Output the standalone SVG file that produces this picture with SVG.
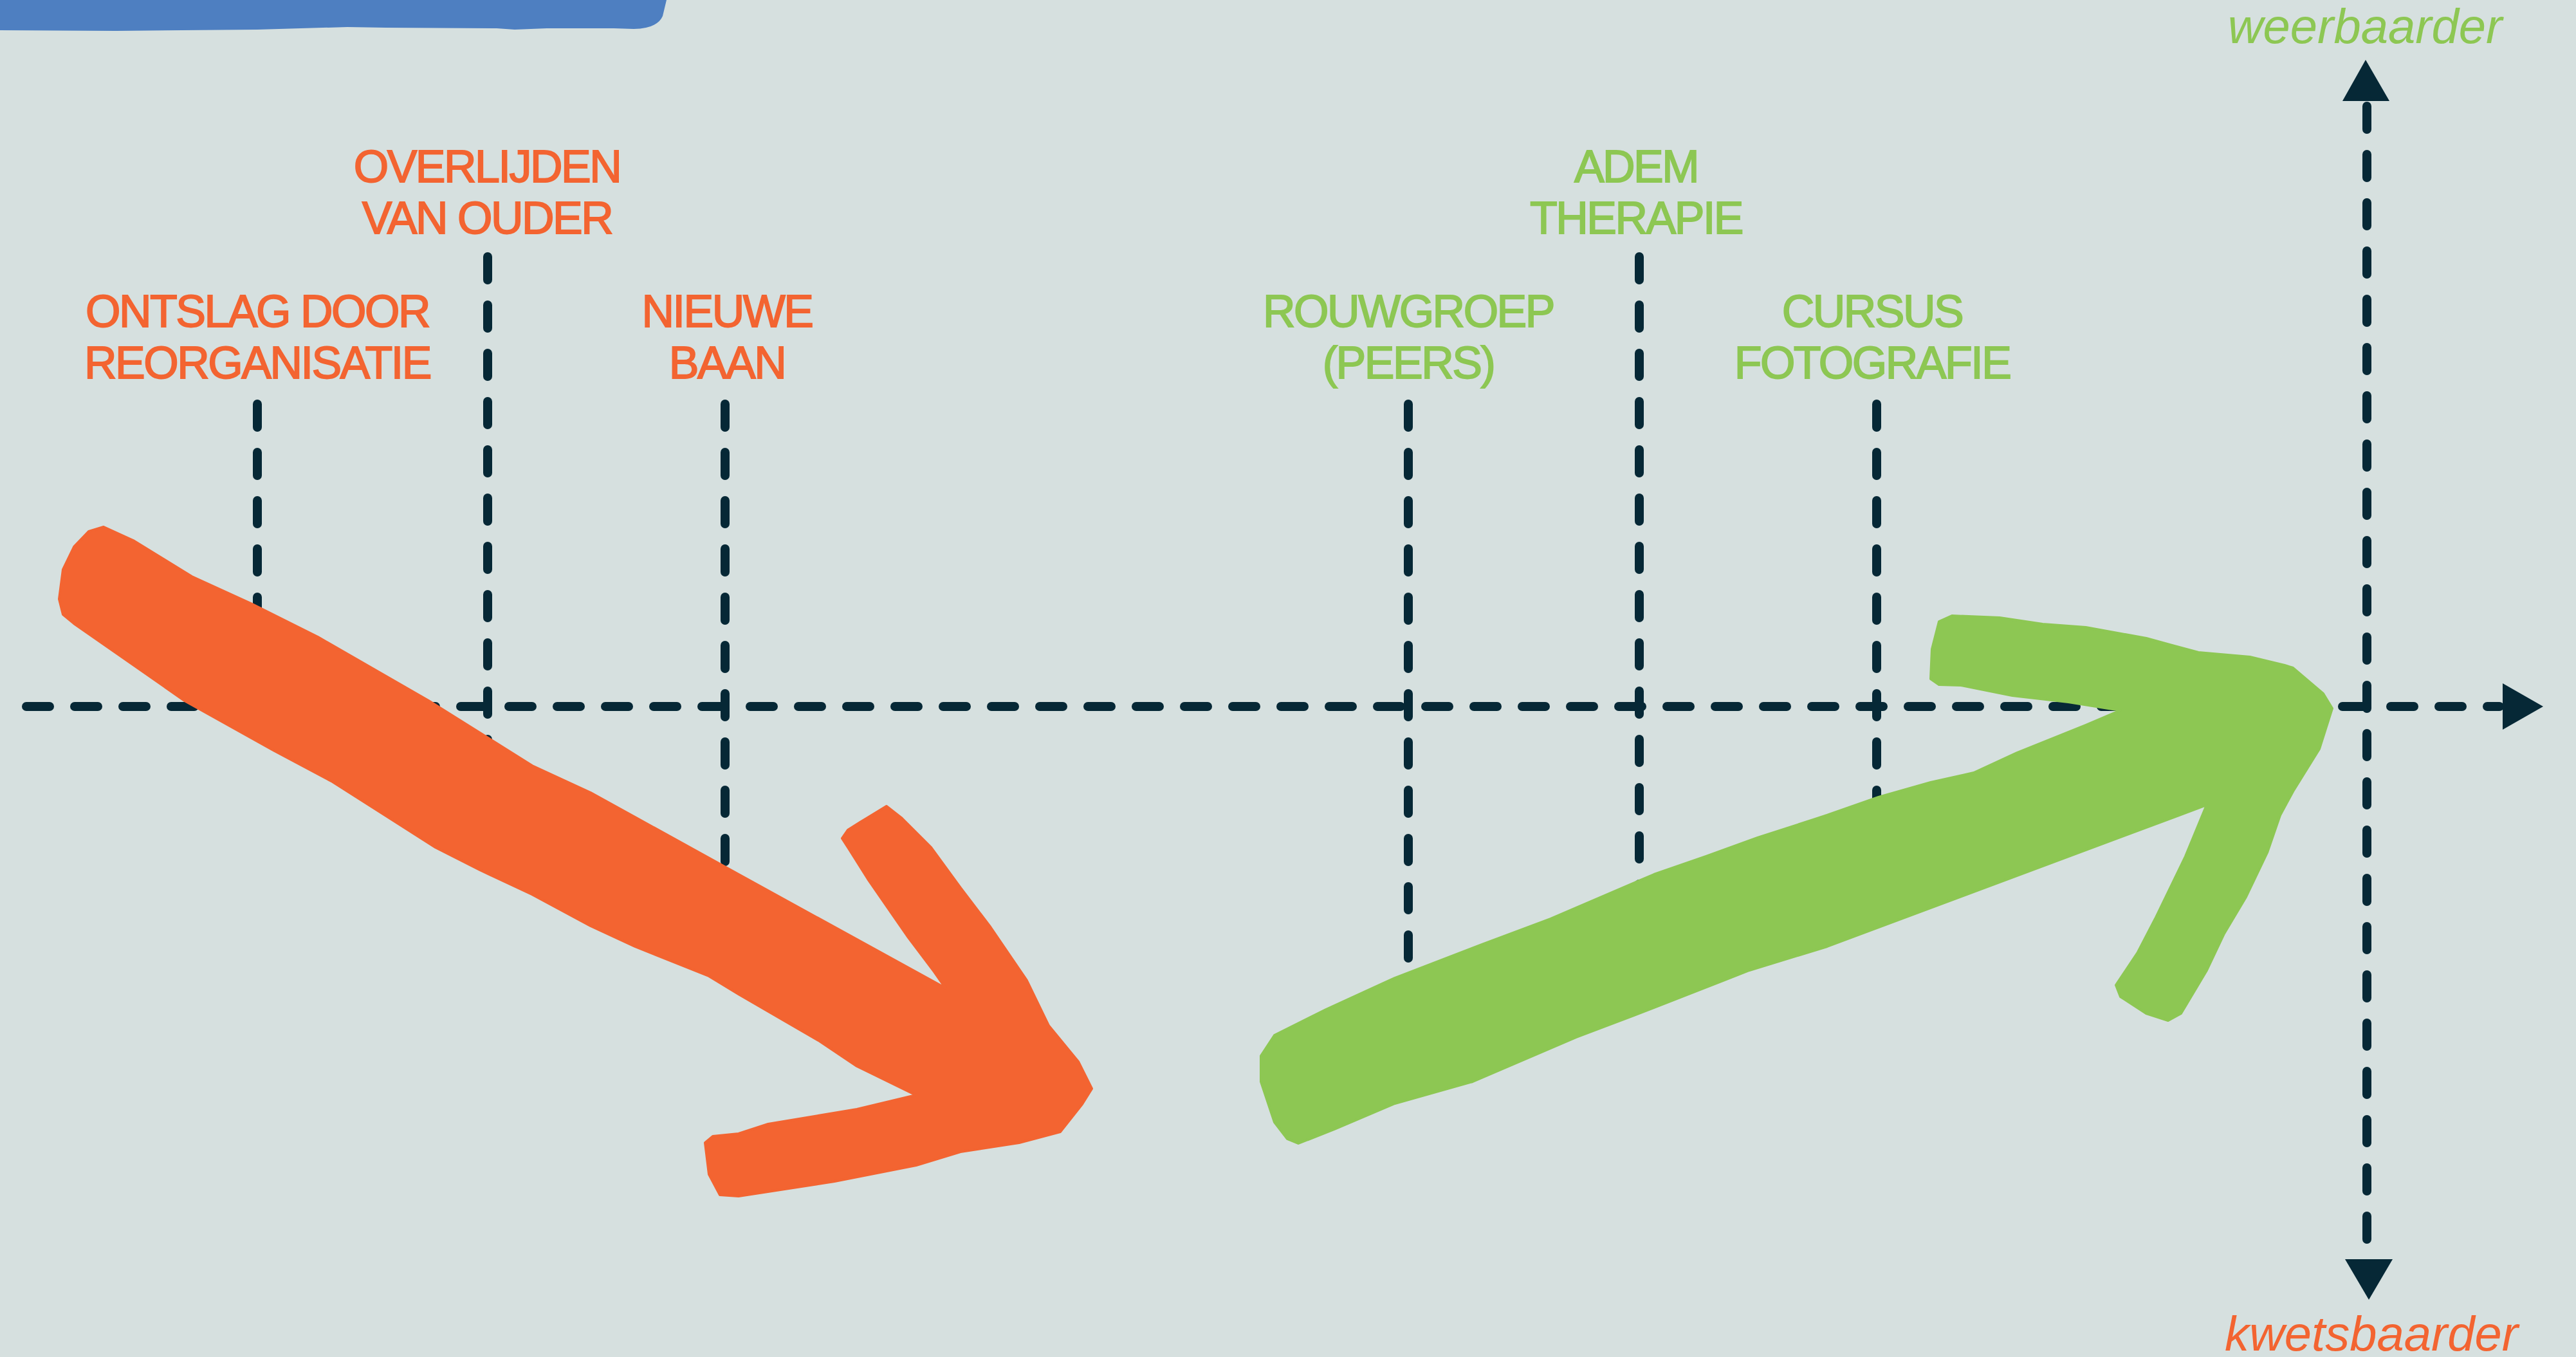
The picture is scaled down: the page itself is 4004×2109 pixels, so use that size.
<svg xmlns="http://www.w3.org/2000/svg" width="4004" height="2109" viewBox="0 0 4004 2109">
<style>
.dash{fill:none;stroke:#062836;stroke-width:14;stroke-linecap:round;stroke-dasharray:36 39}
.lbl{font-family:"Liberation Sans",Arial,sans-serif;font-size:70px;letter-spacing:-2.5px;text-anchor:middle;stroke-width:1.8px}
.neg{fill:#F36431;stroke:#F36431}
.pos{fill:#8DC753;stroke:#8DC753}
.shape{stroke-width:4px;stroke-linejoin:round}
.ax{font-family:"Liberation Sans",Arial,sans-serif;font-size:76px;font-style:italic;text-anchor:middle;stroke-width:0}
.head{fill:#062836}
</style>
<rect width="4004" height="2109" fill="#D6E0DF"/>
<path d="M0,0 L1036,0 L1030,25 Q1022,44 985,45 L954,44 L850,44 L800,46 L772,44 L600,43 L540,42 L400,46 L180,48 L0,47 Z" fill="#4E7FC1"/>
<g id="connectors">
<path class="dash" d="M41,1098 H3885"/>
<path class="dash" d="M3679,165 V1950"/>
<path class="dash" d="M400,628 V1000"/>
<path class="dash" d="M758,399 V1200"/>
<path class="dash" d="M1127,628 V1420"/>
<path class="dash" d="M2189,628 V1620"/>
<path class="dash" d="M2548,399 V1460"/>
<path class="dash" d="M2917,628 V1300"/>
<polygon class="head" points="3890,1062 3953,1098 3890,1134"/>
<polygon class="head" points="3641,157 3677,93 3714,157"/>
<polygon class="head" points="3645,1957 3682,2020 3719,1957"/>
</g>
<g id="arrow-down">
<path class="neg shape" d="M161,819 L207,840 L298,896 L390,938 L494,990 L666,1089 L827,1190 L918,1232 L1148,1359 L1470,1536 L1452,1510 L1412,1457 L1349,1366 L1320,1320 L1309,1303 L1318,1290 L1337,1278 L1378,1253 L1401,1271 L1447,1317 L1493,1380 L1538,1439 L1596,1524 L1630,1594 L1676,1650 L1697,1692 L1682,1716 L1648,1759 L1584,1776 L1493,1790 L1424,1811 L1297,1836 L1148,1859 L1119,1857 L1102,1825 L1096,1776 L1108,1766 L1148,1762 L1194,1747 L1332,1724 L1424,1702 L1332,1657 L1274,1618 L1148,1545 L1102,1517 L987,1471 L918,1439 L827,1390 L746,1352 L677,1317 L517,1215 L425,1166 L287,1089 L115,969 L98,955 L92,931 L98,885 L115,850 L138,826 Z"/>
</g>
<g id="arrow-up">
<path class="pos shape" d="M2018,1777 L2074,1755 L2168,1715 L2289,1681 L2450,1612 L2571,1566 L2719,1508 L2840,1471 L3430,1251 L3397,1331 L3350,1428 L3323,1480 L3289,1531 L3296,1549 L3336,1575 L3370,1586 L3390,1575 L3430,1508 L3457,1451 L3491,1394 L3524,1325 L3544,1267 L3564,1230 L3605,1164 L3625,1101 L3611,1078 L3564,1038 L3551,1034 L3497,1021 L3417,1014 L3376,1003 L3336,992 L3242,975 L3175,970 L3108,960 L3034,957 L3014,966 L3003,1009 L3001,1055 L3014,1064 L3048,1065 L3128,1081 L3215,1091 L3296,1104 L3242,1127 L3135,1170 L3068,1201 L3001,1216 L2920,1239 L2840,1267 L2732,1302 L2652,1331 L2571,1359 L2410,1428 L2303,1468 L2168,1520 L2061,1569 L1981,1609 L1960,1641 L1960,1681 L1981,1744 L2001,1770 Z"/>
</g>
<g id="node-ontslag">
<text class="lbl neg" x="400" y="508">ONTSLAG DOOR</text>
<text class="lbl neg" x="400" y="588">REORGANISATIE</text>
</g>
<g id="node-overlijden">
<text class="lbl neg" x="757" y="283">OVERLIJDEN</text>
<text class="lbl neg" x="757" y="363">VAN OUDER</text>
</g>
<g id="node-nieuwe-baan">
<text class="lbl neg" x="1130" y="508">NIEUWE</text>
<text class="lbl neg" x="1130" y="588">BAAN</text>
</g>
<g id="node-rouwgroep">
<text class="lbl pos" x="2189" y="508">ROUWGROEP</text>
<text class="lbl pos" x="2189" y="588">(PEERS)</text>
</g>
<g id="node-adem">
<text class="lbl pos" x="2543" y="283">ADEM</text>
<text class="lbl pos" x="2543" y="363">THERAPIE</text>
</g>
<g id="node-cursus">
<text class="lbl pos" x="2910" y="508">CURSUS</text>
<text class="lbl pos" x="2910" y="588">FOTOGRAFIE</text>
</g>
<g id="node-weerbaarder">
<text class="ax pos" x="3676" y="67">weerbaarder</text>
</g>
<g id="node-kwetsbaarder">
<text class="ax neg" x="3686" y="2099">kwetsbaarder</text>
</g>
</svg>
